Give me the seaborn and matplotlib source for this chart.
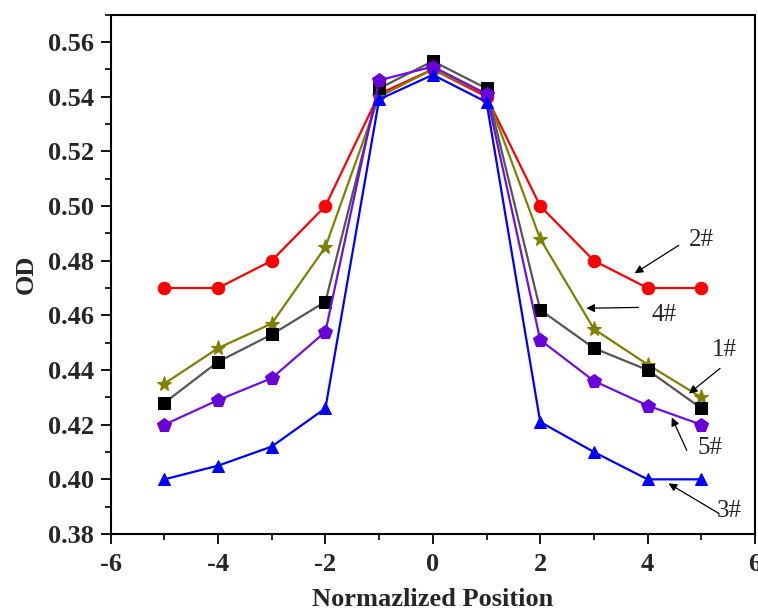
import matplotlib
matplotlib.use("Agg")
import matplotlib.pyplot as plt
import seaborn as sns
import pandas as pd
from matplotlib.ticker import MultipleLocator, FormatStrFormatter

positions = [-5, -4, -3, -2, -1, 0, 1, 2, 3, 4, 5]
s1 = [0.428, 0.443, 0.453, 0.465, 0.543, 0.553, 0.543, 0.462, 0.448, 0.440, 0.426]
s2 = [0.470, 0.470, 0.480, 0.500, 0.541, 0.550, 0.540, 0.500, 0.480, 0.470, 0.470]
s3 = [0.400, 0.405, 0.412, 0.426, 0.539, 0.548, 0.538, 0.421, 0.410, 0.400, 0.400]
s4 = [0.435, 0.448, 0.457, 0.485, 0.540, 0.550, 0.541, 0.488, 0.455, 0.442, 0.430]
s5 = [0.420, 0.429, 0.437, 0.454, 0.546, 0.551, 0.541, 0.451, 0.436, 0.427, 0.420]
names = ["1#", "2#", "3#", "4#", "5#"]

sns.set_theme(style="white")
plt.rcParams['font.family'] = ['Liberation Serif', 'DejaVu Serif']
plt.rcParams['axes.unicode_minus'] = False

rows = []
for name, vals in zip(names, [s1, s2, s3, s4, s5]):
    for p, v in zip(positions, vals):
        rows.append({"pos": p, "OD": v, "sample": name})
df = pd.DataFrame(rows)

styles = {
    "2#": dict(color="#FF0000", marker="o", mfc="#FF0000", mec="#FF0000", ms=9),
    "4#": dict(color="#808000", marker="*", mfc="#808000", mec="#808000", ms=11),
    "1#": dict(color="#555555", marker="s", mfc="#000000", mec="#000000", ms=8),
    "5#": dict(color="#7010E0", marker="p", mfc="#6A00D8", mec="#6A00D8", ms=10),
    "3#": dict(color="#0000FF", marker="^", mfc="#0000FF", mec="#0000FF", ms=9),
}

fig = plt.figure(figsize=(7.58, 6.11), dpi=100)
ax = fig.add_axes([0.146, 0.126, 0.850, 0.850])

for name in ["2#", "4#", "1#", "5#", "3#"]:
    st = styles[name]
    sub = df[df["sample"] == name]
    sns.lineplot(data=sub, x="pos", y="OD", ax=ax, color=st["color"], marker=st["marker"],
                 markerfacecolor=st["mfc"], markeredgecolor=st["mec"], markersize=st["ms"],
                 linewidth=1.6, errorbar=None, legend=False)

ax.set_xlim(-6, 6)
ax.set_ylim(0.38, 0.57)
ax.xaxis.set_major_locator(MultipleLocator(2))
ax.xaxis.set_minor_locator(MultipleLocator(1))
ax.yaxis.set_major_locator(MultipleLocator(0.02))
ax.yaxis.set_minor_locator(MultipleLocator(0.01))
ax.yaxis.set_major_formatter(FormatStrFormatter("%.2f"))
ax.tick_params(which="major", direction="out", length=7, width=1.3, labelsize=19,
               bottom=True, left=True, top=False, right=False, color="black")
ax.tick_params(axis="y", which="major", pad=5)
ax.tick_params(axis="x", which="major", pad=7)
ax.tick_params(which="minor", direction="out", length=4, width=1.2,
               bottom=True, left=True, top=False, right=False, color="black")
for lab in ax.get_xticklabels() + ax.get_yticklabels():
    lab.set_fontweight("bold")
for sp in ax.spines.values():
    sp.set_visible(True)
    sp.set_color("black")
    sp.set_linewidth(1.5)

ax.set_xlabel("Normazlized Position", fontsize=19, fontweight="bold", labelpad=8)
ax.set_ylabel("OD", fontsize=19, fontweight="bold", labelpad=7)

# label text, label position, arrow start, arrow tip
ann = [
    ("2#", (5.01, 0.4875), (4.58, 0.4856), (3.76, 0.4754)),
    ("4#", (4.30, 0.4600), (3.83, 0.4629), (2.86, 0.4626)),
    ("1#", (5.44, 0.4472), (5.35, 0.4406), (4.77, 0.4314)),
    ("5#", (5.16, 0.4113), (4.73, 0.4106), (4.45, 0.4226)),
    ("3#", (5.53, 0.3886), (5.33, 0.3875), (4.39, 0.3985)),
]
for txt, tpos, start, tip in ann:
    ax.text(tpos[0], tpos[1], txt, fontsize=18, ha="center", va="center")
    ax.annotate("", xy=tip, xytext=start,
                arrowprops=dict(arrowstyle="-|>", color="black", lw=0.9,
                                mutation_scale=12, shrinkA=0, shrinkB=0))

fig.savefig("out.png", dpi=100)
